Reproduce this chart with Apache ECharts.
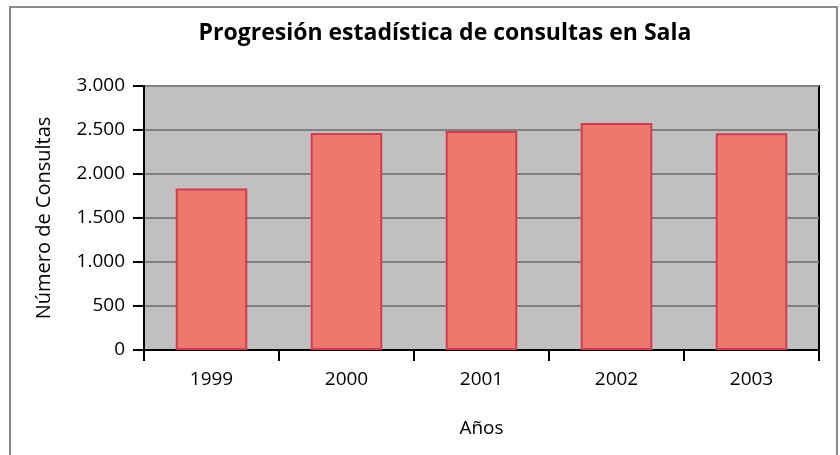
<!DOCTYPE html>
<html>
<head>
<meta charset="utf-8">
<script src="https://cdn.jsdelivr.net/npm/echarts@6/dist/echarts.min.js"></script>
<style>
  html, body { margin: 0; padding: 0; background: #fff; }
  #chart { width: 840px; height: 455px; }
</style>
</head>
<body>
<div id="chart"></div>
<script>
// datos
var years = ['1999', '2000', '2001', '2002', '2003'];
var consultas = [1835, 2465, 2490, 2580, 2462];
var yTicks = [0, 500, 1000, 1500, 2000, 2500, 3000];

var fontName = 'Open Sans';

function miles(v) {
    // separador de miles con punto
    return String(v).replace(/\B(?=(\d{3})+(?!\d))/g, '.');
}

var myChart = echarts.init(document.getElementById('chart'));
myChart.setOption({
    animation: false,
    graphic: [{
        type: 'rect',
        shape: { x: 10, y: 7, width: 827, height: 460 },
        style: { fill: 'none', stroke: '#8a8a8a', lineWidth: 2 }
    }],
    title: {
        text: 'Progresión estadística de consultas en Sala',
        left: 440,
        top: 17,
        textAlign: 'center',
        textStyle: { fontFamily: fontName, fontSize: 23, fontWeight: 'bold', color: '#000' }
    },
    grid: {
        left: 144, top: 86, right: 21, bottom: 105,
        show: true,
        backgroundColor: '#c0c0c0',
        borderColor: '#000',
        borderWidth: 2
    },
    xAxis: {
        type: 'category',
        data: years,
        name: 'Años',
        nameLocation: 'middle',
        nameGap: 69,
        nameTextStyle: { fontFamily: fontName, fontSize: 19, color: '#000' },
        axisLine: { lineStyle: { color: '#000', width: 2 } },
        axisTick: { show: true, length: 11, lineStyle: { color: '#000', width: 2 } },
        axisLabel: { fontFamily: fontName, fontSize: 19, color: '#000', margin: 20 }
    },
    yAxis: {
        type: 'value',
        min: yTicks[0],
        max: yTicks[yTicks.length - 1],
        interval: yTicks[1] - yTicks[0],
        name: 'Número de Consultas',
        nameLocation: 'middle',
        nameGap: 90,
        nameTextStyle: { fontFamily: fontName, fontSize: 20, color: '#000' },
        axisLine: { show: true, lineStyle: { color: '#000', width: 2 } },
        axisTick: { show: true, length: 11, lineStyle: { color: '#000', width: 2 } },
        axisLabel: { fontFamily: fontName, fontSize: 19, color: '#000', margin: 19, formatter: miles },
        splitLine: { lineStyle: { color: '#808080', width: 2 } }
    },
    series: [{
        type: 'bar',
        data: consultas,
        barCategoryGap: '47%',
        itemStyle: { color: '#ee786b', borderColor: '#d43b51', borderWidth: 2 }
    }]
});
</script>
</body>
</html>
